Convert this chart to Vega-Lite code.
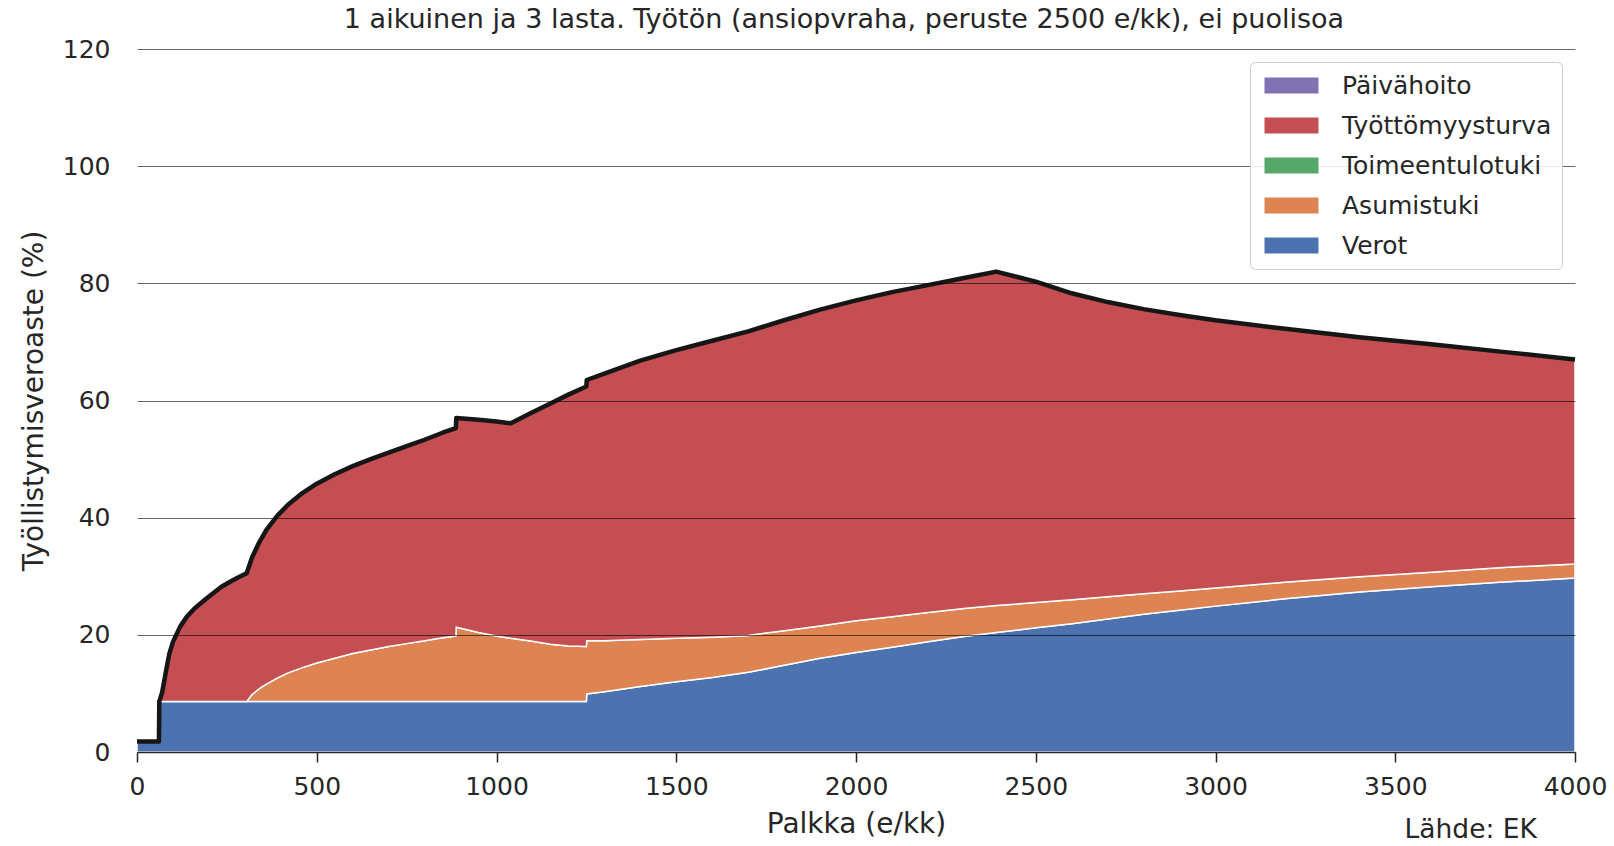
{
  "$schema": "https://vega.github.io/schema/vega-lite/v6.json",
  "width": 1438,
  "height": 703,
  "autosize": {"type": "none"},
  "padding": {"left": 137, "top": 49, "right": 39, "bottom": 94},
  "background": "white",
  "config": {"view": {"stroke": null}, "font": "DejaVu Sans"},
  "title": {"text": "1 aikuinen ja 3 lasta. Työtön (ansiopvraha, peruste 2500 e/kk), ei puolisoa", "font": "DejaVu Sans", "fontSize": 27, "fontWeight": "normal", "color": "#262626", "offset": 3, "frame": "group", "dx": -12},
  "datasets": {
    "rates": [
      {"x": 0, "verot": 1.8, "verot_asumistuki": 1.8, "yhteensa": 1.8},
      {"x": 61, "verot": 1.8, "verot_asumistuki": 1.8, "yhteensa": 1.8},
      {"x": 62, "verot": 8.6, "verot_asumistuki": 8.6, "yhteensa": 8.6},
      {"x": 70, "verot": 8.6, "verot_asumistuki": 8.6, "yhteensa": 10.2},
      {"x": 80, "verot": 8.6, "verot_asumistuki": 8.6, "yhteensa": 13.6},
      {"x": 90, "verot": 8.6, "verot_asumistuki": 8.6, "yhteensa": 16.8},
      {"x": 100, "verot": 8.6, "verot_asumistuki": 8.6, "yhteensa": 18.8},
      {"x": 120, "verot": 8.6, "verot_asumistuki": 8.6, "yhteensa": 21.4},
      {"x": 140, "verot": 8.6, "verot_asumistuki": 8.6, "yhteensa": 23.2},
      {"x": 160, "verot": 8.6, "verot_asumistuki": 8.6, "yhteensa": 24.5},
      {"x": 185, "verot": 8.6, "verot_asumistuki": 8.6, "yhteensa": 25.8},
      {"x": 210, "verot": 8.6, "verot_asumistuki": 8.6, "yhteensa": 27.0},
      {"x": 235, "verot": 8.6, "verot_asumistuki": 8.6, "yhteensa": 28.2},
      {"x": 260, "verot": 8.6, "verot_asumistuki": 8.6, "yhteensa": 29.1},
      {"x": 285, "verot": 8.6, "verot_asumistuki": 8.6, "yhteensa": 29.9},
      {"x": 305, "verot": 8.6, "verot_asumistuki": 8.6, "yhteensa": 30.5},
      {"x": 320, "verot": 8.6, "verot_asumistuki": 9.8, "yhteensa": 33.2},
      {"x": 340, "verot": 8.6, "verot_asumistuki": 10.8, "yhteensa": 35.8},
      {"x": 360, "verot": 8.6, "verot_asumistuki": 11.6, "yhteensa": 37.9},
      {"x": 390, "verot": 8.6, "verot_asumistuki": 12.6, "yhteensa": 40.3},
      {"x": 420, "verot": 8.6, "verot_asumistuki": 13.5, "yhteensa": 42.2},
      {"x": 460, "verot": 8.6, "verot_asumistuki": 14.4, "yhteensa": 44.2},
      {"x": 500, "verot": 8.6, "verot_asumistuki": 15.2, "yhteensa": 45.8},
      {"x": 550, "verot": 8.6, "verot_asumistuki": 16.0, "yhteensa": 47.4},
      {"x": 600, "verot": 8.6, "verot_asumistuki": 16.8, "yhteensa": 48.8},
      {"x": 650, "verot": 8.6, "verot_asumistuki": 17.4, "yhteensa": 50.0},
      {"x": 700, "verot": 8.6, "verot_asumistuki": 18.0, "yhteensa": 51.1},
      {"x": 750, "verot": 8.6, "verot_asumistuki": 18.5, "yhteensa": 52.2},
      {"x": 800, "verot": 8.6, "verot_asumistuki": 19.0, "yhteensa": 53.3},
      {"x": 850, "verot": 8.6, "verot_asumistuki": 19.5, "yhteensa": 54.5},
      {"x": 887, "verot": 8.6, "verot_asumistuki": 19.8, "yhteensa": 55.3},
      {"x": 888, "verot": 8.6, "verot_asumistuki": 21.3, "yhteensa": 57.0},
      {"x": 950, "verot": 8.6, "verot_asumistuki": 20.4, "yhteensa": 56.7},
      {"x": 1000, "verot": 8.6, "verot_asumistuki": 19.8, "yhteensa": 56.4},
      {"x": 1040, "verot": 8.6, "verot_asumistuki": 19.4, "yhteensa": 56.1},
      {"x": 1100, "verot": 8.6, "verot_asumistuki": 18.9, "yhteensa": 58.0},
      {"x": 1150, "verot": 8.6, "verot_asumistuki": 18.4, "yhteensa": 59.5},
      {"x": 1200, "verot": 8.6, "verot_asumistuki": 18.1, "yhteensa": 61.0},
      {"x": 1250, "verot": 8.6, "verot_asumistuki": 18.0, "yhteensa": 62.4},
      {"x": 1251, "verot": 9.9, "verot_asumistuki": 19.0, "yhteensa": 63.5},
      {"x": 1300, "verot": 10.3, "verot_asumistuki": 19.0, "yhteensa": 64.6},
      {"x": 1400, "verot": 11.2, "verot_asumistuki": 19.2, "yhteensa": 66.8},
      {"x": 1500, "verot": 12.0, "verot_asumistuki": 19.4, "yhteensa": 68.6},
      {"x": 1600, "verot": 12.7, "verot_asumistuki": 19.6, "yhteensa": 70.2},
      {"x": 1700, "verot": 13.6, "verot_asumistuki": 19.9, "yhteensa": 71.8},
      {"x": 1800, "verot": 14.8, "verot_asumistuki": 20.7, "yhteensa": 73.7},
      {"x": 1900, "verot": 16.0, "verot_asumistuki": 21.5, "yhteensa": 75.5},
      {"x": 2000, "verot": 17.0, "verot_asumistuki": 22.4, "yhteensa": 77.1},
      {"x": 2100, "verot": 17.9, "verot_asumistuki": 23.1, "yhteensa": 78.5},
      {"x": 2200, "verot": 18.8, "verot_asumistuki": 23.8, "yhteensa": 79.7},
      {"x": 2300, "verot": 19.7, "verot_asumistuki": 24.5, "yhteensa": 80.9},
      {"x": 2390, "verot": 20.4, "verot_asumistuki": 25.0, "yhteensa": 82.0},
      {"x": 2500, "verot": 21.2, "verot_asumistuki": 25.5, "yhteensa": 80.3},
      {"x": 2600, "verot": 21.9, "verot_asumistuki": 26.0, "yhteensa": 78.3},
      {"x": 2700, "verot": 22.7, "verot_asumistuki": 26.5, "yhteensa": 76.8},
      {"x": 2800, "verot": 23.5, "verot_asumistuki": 27.0, "yhteensa": 75.6},
      {"x": 2900, "verot": 24.2, "verot_asumistuki": 27.5, "yhteensa": 74.6},
      {"x": 3000, "verot": 24.9, "verot_asumistuki": 28.0, "yhteensa": 73.7},
      {"x": 3200, "verot": 26.2, "verot_asumistuki": 29.0, "yhteensa": 72.2},
      {"x": 3400, "verot": 27.3, "verot_asumistuki": 29.9, "yhteensa": 70.8},
      {"x": 3600, "verot": 28.2, "verot_asumistuki": 30.7, "yhteensa": 69.6},
      {"x": 3800, "verot": 29.0, "verot_asumistuki": 31.5, "yhteensa": 68.3},
      {"x": 4000, "verot": 29.7, "verot_asumistuki": 32.1, "yhteensa": 67.0}
    ],
    "note": [{"x": 3710, "y": -14.7, "teksti": "Lähde: EK"}]
  },
  "layer": [
    {
      "data": {"name": "rates"},
      "mark": {"type": "area", "orient": "vertical", "stroke": "white", "strokeWidth": 1.5},
      "encoding": {
        "x": {"field": "x", "type": "quantitative", "title": "Palkka (e/kk)",
          "scale": {"domain": [0, 4000], "nice": false, "zero": false},
          "axis": {"values": [0, 500, 1000, 1500, 2000, 2500, 3000, 3500, 4000], "format": "d", "grid": false, "domainColor": "#262626", "domainWidth": 1.5, "tickColor": "#262626", "tickSize": 10, "tickWidth": 1.5, "labelFontSize": 25, "labelColor": "#262626", "labelPadding": 12, "labelFlush": false, "titleFontSize": 28, "titleFontWeight": "normal", "titleColor": "#262626", "titlePadding": 11, "zindex": 1}},
        "y": {"field": "verot", "type": "quantitative", "stack": null, "title": "Työllistymisveroaste (%)",
          "scale": {"domain": [0, 120], "nice": false},
          "axis": {"values": [0, 20, 40, 60, 80, 100, 120], "domain": false, "ticks": false, "grid": true, "gridColor": "#000000", "gridOpacity": 0.6, "gridWidth": 1.2, "labelFontSize": 25, "labelColor": "#262626", "labelPadding": 27, "titleFontSize": 28, "titleFontWeight": "normal", "titleColor": "#262626", "titlePadding": 14, "zindex": 1}},
        "y2": {"datum": 0},
        "color": {"datum": "Verot", "type": "nominal",
          "scale": {"domain": ["Päivähoito", "Työttömyysturva", "Toimeentulotuki", "Asumistuki", "Verot"], "range": ["#8172B3", "#C44E52", "#55A868", "#DD8452", "#4C72B0"]},
          "legend": {"orient": "top-right", "offset": 13, "title": null, "labelFontSize": 25, "labelColor": "#262626", "labelLimit": 400, "symbolType": "M-2,-0.6H2V0.6H-2Z", "symbolSize": 729, "symbolStrokeWidth": 0, "symbolOpacity": 1, "symbolOffset": 18, "rowPadding": 13, "padding": 10, "labelOffset": 37, "fillColor": "rgba(255,255,255,0.85)", "strokeColor": "#cccccc", "cornerRadius": 5, "zindex": 2}}
      }
    },
    {
      "data": {"name": "rates"},
      "mark": {"type": "area", "orient": "vertical", "stroke": "white", "strokeWidth": 1.5},
      "encoding": {
        "x": {"field": "x", "type": "quantitative"},
        "y": {"field": "verot_asumistuki", "type": "quantitative", "stack": null, "title": "Työllistymisveroaste (%)"},
        "y2": {"field": "verot"},
        "color": {"datum": "Asumistuki", "type": "nominal"}
      }
    },
    {
      "data": {"name": "rates"},
      "mark": {"type": "area", "orient": "vertical", "stroke": "white", "strokeWidth": 1.5},
      "encoding": {
        "x": {"field": "x", "type": "quantitative"},
        "y": {"field": "yhteensa", "type": "quantitative", "stack": null, "title": "Työllistymisveroaste (%)"},
        "y2": {"field": "verot_asumistuki"},
        "color": {"datum": "Työttömyysturva", "type": "nominal"}
      }
    },
    {
      "data": {"name": "rates"},
      "mark": {"type": "line", "color": "#161616", "strokeWidth": 4.5, "strokeJoin": "round"},
      "encoding": {
        "x": {"field": "x", "type": "quantitative"},
        "y": {"field": "yhteensa", "type": "quantitative", "title": "Työllistymisveroaste (%)"}
      }
    },
    {
      "data": {"name": "note"},
      "mark": {"type": "text", "fontSize": 26.5, "color": "#262626", "align": "center", "baseline": "alphabetic", "clip": false},
      "encoding": {
        "x": {"field": "x", "type": "quantitative"},
        "y": {"field": "y", "type": "quantitative", "title": "Työllistymisveroaste (%)"},
        "text": {"field": "teksti", "type": "nominal"}
      }
    }
  ]
}
